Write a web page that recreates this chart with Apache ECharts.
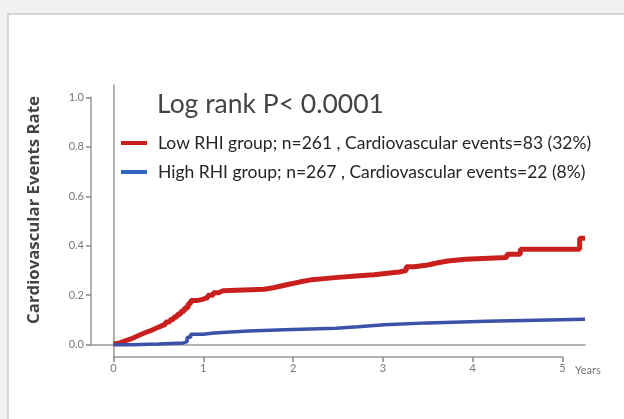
<!DOCTYPE html>
<html>
<head>
<meta charset="utf-8">
<script src="https://cdn.jsdelivr.net/npm/echarts@6/dist/echarts.min.js"></script>
<style>
html,body{margin:0;padding:0;background:#f1f1f3;}
#c{width:624px;height:419px;}
</style>
</head>
<body>
<div id="c"></div>
<script>
var seriesNames = [
  'Low RHI group; n=261 , Cardiovascular events=83 (32%)',
  'High RHI group; n=267 , Cardiovascular events=22 (8%)'
];
var titleText = 'Log rank P< 0.0001';
var yAxisTitle = 'Cardiovascular Events Rate';
var xAxisTitle = 'Years';
var xTickValues = [0, 1, 2, 3, 4, 5];
var yTickValues = [0, 0.2, 0.4, 0.6, 0.8, 1.0];

var lowRHI = [
  [0, 0.004], [0.03, 0.008], [0.08, 0.015], [0.13, 0.021], [0.18, 0.029], [0.23, 0.037],
  [0.28, 0.045], [0.33, 0.052], [0.38, 0.059], [0.43, 0.067], [0.48, 0.075],
  [0.53, 0.083], [0.58, 0.092], [0.63, 0.102], [0.67, 0.112], [0.71, 0.123],
  [0.75, 0.135], [0.79, 0.148], [0.83, 0.165], [0.86, 0.178], [0.93, 0.183],
  [0.99, 0.19], [1.05, 0.2], [1.11, 0.21], [1.17, 0.218], [1.22, 0.224],
  [1.68, 0.23], [1.78, 0.238], [1.88, 0.246], [1.98, 0.254], [2.08, 0.262],
  [2.2, 0.267], [2.35, 0.272], [2.5, 0.278], [2.7, 0.283], [2.9, 0.289],
  [3.05, 0.294], [3.18, 0.3], [3.26, 0.315], [3.35, 0.322], [3.5, 0.33],
  [3.6, 0.338], [3.72, 0.345], [3.92, 0.352], [4.38, 0.366], [4.53, 0.386],
  [5.19, 0.43], [5.25, 0.43]
];
var highRHI = [
  [0, 0], [0.2, 0.003], [0.5, 0.007], [0.78, 0.012], [0.82, 0.03], [0.86, 0.042],
  [1.0, 0.047], [1.12, 0.055], [1.5, 0.06], [1.9, 0.066], [2.48, 0.072],
  [2.72, 0.08], [3.02, 0.088], [3.5, 0.095], [4.15, 0.103], [5.25, 0.103]
];

var W = 624, H = 419;
var G = {left: 91, right: 39, top: 85, bottom: 62};
var X_MIN = -0.25, X_MAX = 5.25, Y_MIN = -0.05, Y_MAX = 1.05;
var xUnit = (W - G.left - G.right) / (X_MAX - X_MIN);
var yUnit = (H - G.top - G.bottom) / (Y_MAX - Y_MIN);
var xPadL = (xTickValues[0] - X_MIN) * xUnit, xPadR = (X_MAX - xTickValues[xTickValues.length - 1]) * xUnit;
var yPadB = (yTickValues[0] - Y_MIN) * yUnit, yPadT = (Y_MAX - yTickValues[yTickValues.length - 1]) * yUnit;
var G2 = {left: G.left + xPadL, right: G.right + xPadR, top: G.top + yPadT, bottom: G.bottom + yPadB};

var FONT = 'Lato, "Open Sans", sans-serif';
var AX = '#9a9a9a';
var chart = echarts.init(document.getElementById('c'), null, {renderer: 'canvas'});
chart.setOption({
  animation: false,
  backgroundColor: '#f1f1f3',
  title: {
    text: titleText, left: 152, top: 86,
    textStyle: {fontFamily: FONT, fontSize: 26.5, fontWeight: 'normal', color: '#444'}
  },
  legend: {
    orient: 'vertical', left: 116, top: 129, itemGap: 11,
    itemWidth: 26, itemHeight: 4, icon: 'rect',
    textStyle: {fontFamily: FONT, fontSize: 17.5, color: '#262626', padding: [0, 0, 0, 6]},
    data: seriesNames
  },
  grid: [
    {left: G.left, right: G.right, top: G.top, bottom: G.bottom},
    {left: G2.left, right: G2.right, top: G2.top, bottom: G2.bottom}
  ],
  xAxis: [
    {gridIndex: 0, type: 'value', min: X_MIN, max: X_MAX,
     axisLine: {show: true, lineStyle: {color: AX, width: 1.5}},
     axisTick: {show: false}, axisLabel: {show: false}, splitLine: {show: false}},
    {gridIndex: 1, type: 'value', min: xTickValues[0], max: xTickValues[xTickValues.length - 1], interval: 1,
     offset: yPadB, position: 'bottom',
     axisLine: {show: true, onZero: false, lineStyle: {color: AX, width: 1.5}},
     axisTick: {show: true, inside: false, length: 5, lineStyle: {color: '#888', width: 1.5}},
     axisLabel: {fontFamily: FONT, fontSize: 11, color: '#777', margin: 6},
     splitLine: {show: false}}
  ],
  yAxis: [
    {gridIndex: 0, type: 'value', min: Y_MIN, max: Y_MAX,
     name: yAxisTitle, nameLocation: 'middle', nameGap: 48,
     nameTextStyle: {fontFamily: '"Open Sans", Lato, sans-serif', fontSize: 16.8, fontWeight: 'bold', color: '#444', padding: [0, 0, 0, 22]},
     axisLine: {show: true, lineStyle: {color: AX, width: 1.5}},
     axisTick: {show: false}, axisLabel: {show: false}, splitLine: {show: false}},
    {gridIndex: 1, type: 'value', min: yTickValues[0], max: yTickValues[yTickValues.length - 1], interval: 0.2,
     offset: xPadL, position: 'left',
     axisLine: {show: true, onZero: false, lineStyle: {color: AX, width: 1.5}},
     axisTick: {show: true, inside: false, length: 5, lineStyle: {color: '#888', width: 1.5}},
     axisLabel: {fontFamily: FONT, fontSize: 11, color: '#777', margin: 7,
       formatter: function (v) { return v.toFixed(1); }},
     splitLine: {show: false}}
  ],
  series: [
    {name: seriesNames[0], type: 'line', step: 'end', data: lowRHI, showSymbol: false,
     xAxisIndex: 0, yAxisIndex: 0,
     color: '#c9201d', lineStyle: {width: 5, color: '#c9201d'}},
    {name: seriesNames[1], type: 'line', step: 'end', data: highRHI, showSymbol: false,
     xAxisIndex: 0, yAxisIndex: 0,
     color: '#3066bd', lineStyle: {width: 3.5, color: '#3b52a8'}}
  ]
});
var pt = chart.convertToPixel({xAxisIndex: 0, yAxisIndex: 0}, [X_MAX, Y_MIN]);
chart.setOption({
  graphic: [
    {type: 'rect', z: -10, shape: {x: 8, y: 14, width: 620, height: 410},
     style: {fill: '#ffffff', stroke: '#c9c9cf', lineWidth: 1.5}},
    {type: 'text', x: pt[0] - 10, y: pt[1] + 13,
     style: {text: xAxisTitle, fontFamily: FONT, fontSize: 11, fill: '#777', align: 'left', verticalAlign: 'middle'}}
  ]
});
</script>
</body>
</html>
